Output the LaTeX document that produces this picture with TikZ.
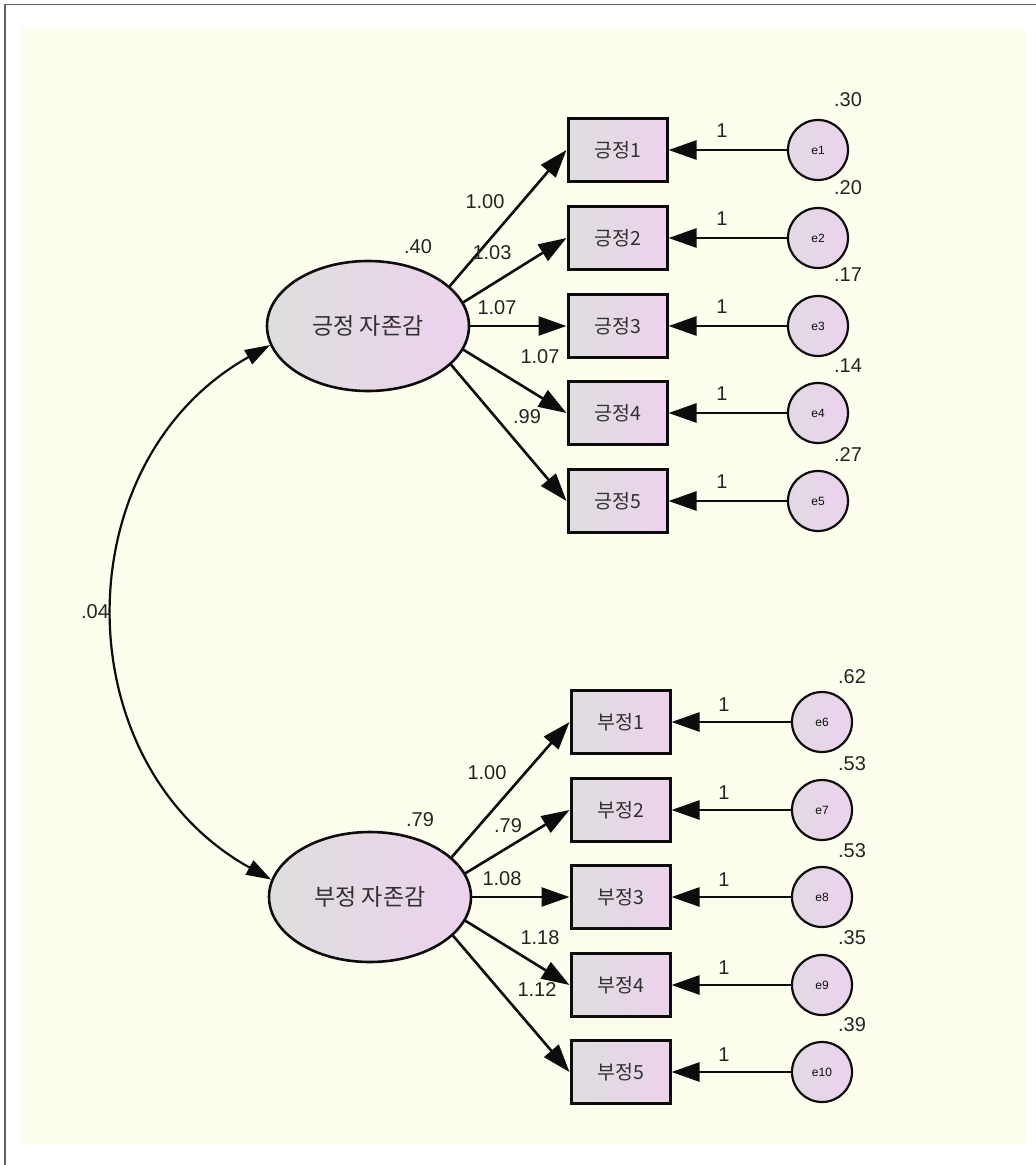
\documentclass[tikz,border=0pt]{standalone}
\usepackage{fontspec}
\setmainfont{Liberation Sans}
\newfontfamily\kr{Noto Sans CJK KR}
\usetikzlibrary{arrows.meta,shapes.geometric}
\definecolor{bgy}{RGB}{254,254,238}
\definecolor{frm}{RGB}{95,95,95}
\definecolor{gl}{RGB}{222,222,222}
\definecolor{pk}{RGB}{236,210,236}
\definecolor{cgl}{RGB}{226,218,228}
\definecolor{cpk}{RGB}{236,210,238}
\definecolor{ink}{RGB}{12,12,12}
\begin{document}
\begin{tikzpicture}[x=1pt,y=-1pt,
  obs/.style={draw=ink,line width=3pt,rectangle,minimum width=99pt,minimum height=63pt,inner sep=0pt,left color=gl,right color=pk,text=ink!85,font=\kr\fontsize{19.5}{19.5}\selectfont},
  lat/.style={draw=ink,line width=2.6pt,ellipse,minimum width=202pt,minimum height=130pt,inner sep=0pt,left color=gl,right color=pk,text=ink!85,font=\kr\fontsize{23}{23}\selectfont},
  err/.style={draw=ink,line width=2.2pt,circle,minimum size=60pt,inner sep=0pt,left color=cgl,right color=cpk,text=ink,font=\fontsize{12}{12}\selectfont},
  reg/.style={draw=ink,line width=2.6pt,-{Triangle[length=28pt,width=19pt]}},
  cov/.style={draw=ink,line width=2.2pt,{Triangle[length=25pt,width=16pt]}-{Triangle[length=25pt,width=16pt]}},
  num/.style={font=\fontsize{20}{20}\selectfont,text=ink!90,inner sep=0pt},
]
\useasboundingbox (0,0) rectangle (1036,1165);
\fill[white] (0,0) rectangle (1036,1165);
\fill[bgy] (21,27) rectangle (1026,1144);
\draw[frm,line width=1.6pt] (5,1165) -- (5,4.5) -- (1036,4.5);

% latent variables
\node[lat] (pl) at (368,326) {긍정 자존감};
\node[lat] (nl) at (370,897) {부정 자존감};
\node[num] (vpl) at (418,247) {.40};
\node[num] (vnl) at (420,820) {.79};

% positive indicators
\foreach \i/\y/\vy/\v in {1/150/100/.30, 2/238/188/.20, 3/326/275/.17, 4/413/366/.14, 5/501/455/.27} {
  \node[obs] (p\i) at (617.5,\y) {긍정\i};
  \node[err] (e\i) at (818,\y) {e\i};
  \node[num] (ve\i) at (848,\vy) {\v};
  \node[num] (one\i) at (722,\y-19) {1};
  \draw[reg] (e\i) -- (p\i);
}
% negative indicators
\foreach \i/\j/\y/\vy/\v in {1/6/722/677/.62, 2/7/810/764/.53, 3/8/897/851/.53, 4/9/985/938/.35, 5/10/1072/1025/.39} {
  \node[obs] (n\i) at (620.5,\y) {부정\i};
  \node[err] (e\j) at (822,\y) {e\j};
  \node[num] (ve\j) at (852,\vy) {\v};
  \node[num] (one\j) at (724,\y-17) {1};
  \draw[reg] (e\j) -- (n\i);
}

% loadings
\draw[reg] (pl.26) -- (p1.west);
\draw[reg] (pl.14) -- (p2.west);
\draw[reg] (pl.0) -- (p3.west);
\draw[reg] (pl.-14) -- (p4.west);
\draw[reg] (pl.-25) -- (p5.west);
\draw[reg] (nl.26) -- (n1.west);
\draw[reg] (nl.14) -- (n2.west);
\draw[reg] (nl.0) -- (n3.west);
\draw[reg] (nl.-14) -- (n4.west);
\draw[reg] (nl.-25) -- (n5.west);

\node[num] (lp1) at (485,202) {1.00};
\node[num] (lp2) at (492,253) {1.03};
\node[num] (lp3) at (497,308) {1.07};
\node[num] (lp4) at (540,357) {1.07};
\node[num] (lp5) at (527,417) {.99};
\node[num] (ln1) at (487,773) {1.00};
\node[num] (ln2) at (508,826) {.79};
\node[num] (ln3) at (502,879) {1.08};
\node[num] (ln4) at (540,938) {1.18};
\node[num] (ln5) at (537,990) {1.12};

% covariance
\draw[cov] (pl.191) .. controls (63,461) and (63,764) .. (nl.170);
\node[num] (cv) at (95,612) {.04};
\end{tikzpicture}
\end{document}
